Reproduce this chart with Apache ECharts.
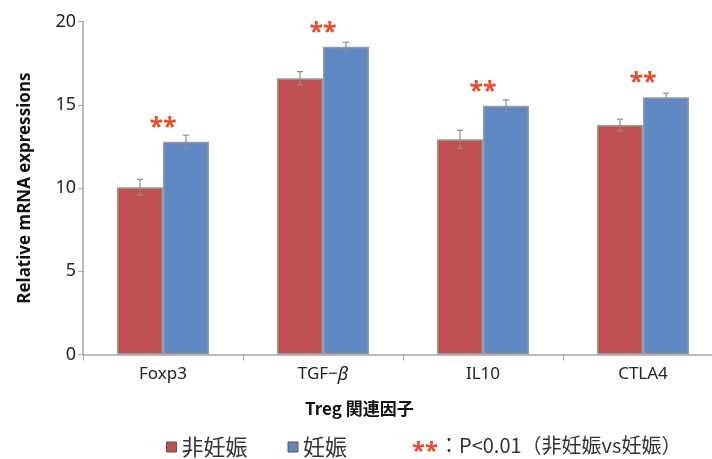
<!DOCTYPE html>
<html><head><meta charset="utf-8">
<script src="https://cdn.jsdelivr.net/npm/echarts@6/dist/echarts.min.js"></script>
<style>html,body{margin:0;padding:0;background:#fff}#c{width:712px;height:459px}</style>
</head><body><div id="c"></div>
<script>
const categories = ['Foxp3', 'TGF-β', 'IL10', 'CTLA4'];
const nonPregnant = [10.05, 16.6, 12.93, 13.79];
const nonPregnantErr = [0.48, 0.40, 0.54, 0.35];
const pregnant = [12.79, 18.5, 14.95, 15.46];
const pregnantErr = [0.39, 0.26, 0.35, 0.24];
const yTicks = [0, 5, 10, 15, 20];
const seriesNames = ['非妊娠', '妊娠'];

const RED = '#c0504f', BLUE = '#5f88c3', STAR = '#ec4a2c';
const CAT_GAP = 0.425;
const FONT = '"Noto Sans", "Noto Sans CJK JP", sans-serif';
const CJK = '"Noto Sans CJK JP", "Noto Sans", sans-serif';

function errSeries(vals, errs, sign) {
  return {
    type: 'custom', z: 5, silent: true,
    data: vals.map((v, i) => [i, v, errs[i]]),
    encode: { x: 0, y: 1 },
    renderItem: function (params, api) {
      const i = api.value(0), v = api.value(1), e = api.value(2);
      const band = api.size([1, 0])[0];
      const bw = band * (1 - CAT_GAP) / 2;
      const x = api.coord([i, v])[0] + sign * bw / 2;
      const yt = api.coord([i, v + e])[1];
      const yb = api.coord([i, v - e])[1];
      const st = { stroke: '#8c8c8c', lineWidth: 1.2 };
      return { type: 'group', children: [
        { type: 'line', shape: { x1: x, y1: yt, x2: x, y2: yb }, style: st },
        { type: 'line', shape: { x1: x - 3, y1: yt, x2: x + 3, y2: yt }, style: st },
        { type: 'line', shape: { x1: x - 3, y1: yb, x2: x + 3, y2: yb }, style: st }
      ]};
    }
  };
}

const chart = echarts.init(document.getElementById('c'));
chart.setOption({
  animation: false,
  backgroundColor: '#fff',
  grid: { left: 83, width: 640, top: 21.7, bottom: 104.5, containLabel: false, outerBoundsMode: 'none' },
  xAxis: {
    type: 'category', data: categories,
    axisLine: { lineStyle: { color: '#a6a6a6', width: 1.5 } },
    axisTick: { show: true, length: 6, lineStyle: { color: '#a6a6a6' } },
    axisLabel: {
      margin: 11, fontSize: 17, color: '#222', fontFamily: FONT,
      formatter: v => v === 'TGF-β' ? 'TGF−{b|β}' : v,
      rich: { b: { fontStyle: 'italic', fontSize: 18, color: '#222', fontFamily: FONT } }
    }
  },
  yAxis: {
    type: 'value', min: 0, max: 20, interval: 5,
    splitLine: { show: false },
    axisLine: { show: true, lineStyle: { color: '#a6a6a6', width: 1.5 } },
    axisTick: { show: true, length: 5, lineStyle: { color: '#a6a6a6' } },
    axisLabel: { margin: 7, fontSize: 18, color: '#222', fontFamily: FONT,
      formatter: v => yTicks.includes(v) ? String(v) : '' },
    name: 'Relative mRNA expressions', nameLocation: 'middle', nameGap: 49,
    nameTextStyle: { fontSize: 17, fontWeight: 'bold', color: '#111', fontFamily: FONT }
  },
  legend: {
    data: seriesNames, left: 166, top: 436, padding: 0, itemWidth: 10, itemHeight: 10, itemGap: 40,
    icon: 'rect',
    itemStyle: { borderColor: '#555', borderWidth: 1 },
    textStyle: { fontSize: 22, color: '#333', fontFamily: CJK }
  },
  graphic: [
    { type: 'text', left: 305, top: 400,
      style: { text: 'Treg 関連因子', font: 'bold 17px ' + CJK, fill: '#111' } },
    { type: 'text', left: 412, top: 440,
      style: { text: '**', font: 'bold 24px ' + FONT, fill: STAR } },
    { type: 'text', left: 439, top: 435,
      style: { text: '：P<0.01（非妊娠vs妊娠）', font: '20px ' + CJK, fill: '#333' } }
  ],
  series: [
    { name: seriesNames[0], type: 'bar', data: nonPregnant, barGap: 0, barCategoryGap: (CAT_GAP * 100) + '%',
      itemStyle: { color: RED, borderColor: '#9a9a9a', borderWidth: 1.5 } },
    { name: seriesNames[1], type: 'bar', data: pregnant, barGap: 0, barCategoryGap: (CAT_GAP * 100) + '%',
      itemStyle: { color: BLUE, borderColor: '#9a9a9a', borderWidth: 1.5 } },
    errSeries(nonPregnant, nonPregnantErr, -1),
    errSeries(pregnant, pregnantErr, 1),
    {
      type: 'custom', z: 6, silent: true,
      data: pregnant.map((v, i) => [i, v]),
      encode: { x: 0, y: 1 },
      renderItem: function (params, api) {
        const p = api.coord([api.value(0), api.value(1)]);
        return { type: 'text', x: p[0], y: p[1] - 14,
          style: { text: '**', fill: STAR, font: 'bold 25px ' + FONT,
            textAlign: 'center', textVerticalAlign: 'middle', align: 'center', verticalAlign: 'middle' } };
      }
    }
  ]
});
</script></body></html>
